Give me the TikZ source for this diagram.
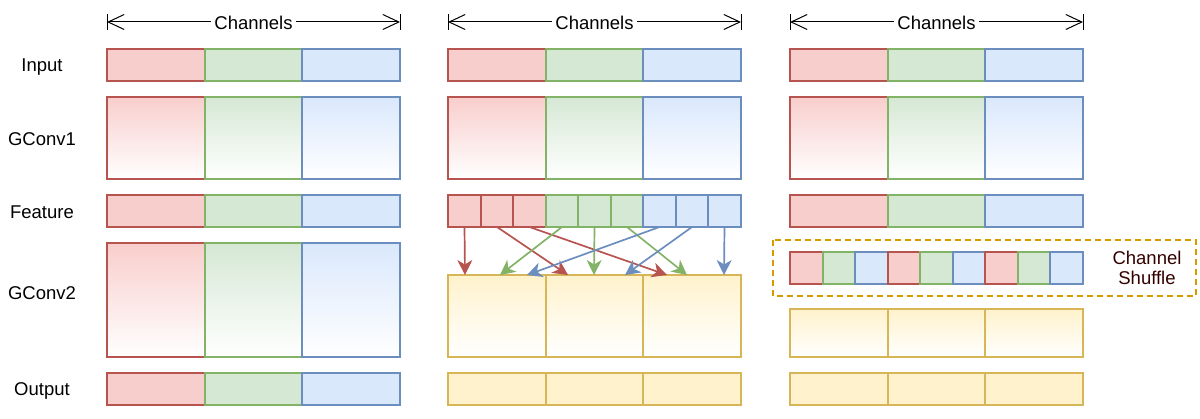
\documentclass[tikz,border=0pt]{standalone}
\usepackage{fontspec}
\setmainfont{Liberation Sans}
\usetikzlibrary{arrows.meta}
\definecolor{redS}{HTML}{B85450}\definecolor{redF}{HTML}{F8CECC}
\definecolor{grnS}{HTML}{82B366}\definecolor{grnF}{HTML}{D5E8D4}
\definecolor{bluS}{HTML}{6C8EBF}\definecolor{bluF}{HTML}{DAE8FC}
\definecolor{yelS}{HTML}{D6B656}\definecolor{yelF}{HTML}{FFF2CC}
\definecolor{orgS}{HTML}{D79B00}\definecolor{shufT}{HTML}{330000}
\tikzset{
  blk/.style={rectangle,line width=1.6pt,inner sep=0pt,outer sep=0pt,anchor=north west},
  rf/.style={blk,draw=redS,fill=redF}, gf/.style={blk,draw=grnS,fill=grnF},
  bf/.style={blk,draw=bluS,fill=bluF}, yf/.style={blk,draw=yelS,fill=yelF},
  rg/.style={blk,draw=redS,top color=redF,bottom color=white},
  gg/.style={blk,draw=grnS,top color=grnF,bottom color=white},
  bg/.style={blk,draw=bluS,top color=bluF,bottom color=white},
  yg/.style={blk,draw=yelS,top color=yelF,bottom color=white},
  lbl/.style={font=\fontsize{18.5}{22}\selectfont,anchor=base},
  chan/.style={font=\fontsize{18.5}{22}\selectfont,fill=white,inner xsep=3pt,inner ysep=0pt,yshift=-1.3pt},
  dimarr/.style={line width=1pt,{Straight Barb[length=16pt,width=15pt]}-{Straight Barb[length=16pt,width=15pt]}},
  arr/.style={line width=1.7pt,-{Stealth[length=15pt,width=15pt,inset=4.5pt]}}
}
% \blk{style}{x}{y}{w}{h}{name}
\newcommand{\blk}[6]{\node[#1,minimum width=#4pt,minimum height=#5pt] (#6) at ({#2},{#3}) {};}
\begin{document}
\begin{tikzpicture}[x=1pt,y=-1pt]
\useasboundingbox (0,0) rectangle (1200,419);
% row labels
\node[lbl] (lIn) at (42,71.5) {Input};
\node[lbl] (lG1) at (42,145.5) {GConv1};
\node[lbl] (lFe) at (42,218.5) {Feature};
\node[lbl] (lG2) at (42,299.5) {GConv2};
\node[lbl] (lOu) at (42,395.5) {Output};
% channel dimension arrows
\foreach \c/\x in {1/107,2/448,3/790}{
  \coordinate (d\c L) at (\x,22);
  \coordinate (d\c R) at ({\x+293},22);
  \draw[dimarr] (d\c L) -- node[chan] (ch\c) {Channels} (d\c R);
  \draw[line width=1pt] ([yshift=-8pt]d\c L) -- ([yshift=8pt]d\c L);
  \draw[line width=1pt] ([yshift=-8pt]d\c R) -- ([yshift=8pt]d\c R);
}
% input and gconv1 rows
\foreach \c/\x in {1/107,2/448,3/790}{
  \blk{rf}{\x}{49}{98}{32}{in\c a}
  \blk{gf}{\x+98}{49}{97}{32}{in\c b}
  \blk{bf}{\x+195}{49}{98}{32}{in\c c}
  \blk{rg}{\x}{97}{98}{82}{ga\c a}
  \blk{gg}{\x+98}{97}{97}{82}{ga\c b}
  \blk{bg}{\x+195}{97}{98}{82}{ga\c c}
}
% feature row
\foreach \c/\x in {1/107,3/790}{
  \blk{rf}{\x}{195}{98}{32}{fe\c a}
  \blk{gf}{\x+98}{195}{97}{32}{fe\c b}
  \blk{bf}{\x+195}{195}{98}{32}{fe\c c}
}
\foreach \i/\s/\xa/\w in {1/rf/448/33,2/rf/481/32,3/rf/513/33,4/gf/546/32,5/gf/578/33,6/gf/611/32,7/bf/643/33,8/bf/676/32,9/bf/708/33}{
  \blk{\s}{\xa}{195}{\w}{32}{f\i}
}
% gconv2 row
\blk{rg}{107}{243}{98}{114}{gb1a}
\blk{gg}{205}{243}{97}{114}{gb1b}
\blk{bg}{302}{243}{98}{114}{gb1c}
\blk{yg}{448}{275}{98}{82}{gb2a}
\blk{yg}{546}{275}{97}{82}{gb2b}
\blk{yg}{643}{275}{98}{82}{gb2c}
\draw[orgS,line width=1.5pt,dash pattern=on 6pt off 4pt] (773,240) rectangle (1196,296);
\node[lbl,text=shufT] (shuf1) at (1147,265) {Channel};
\node[lbl,text=shufT] (shuf2) at (1147,285) {Shuffle};
\foreach \i/\s/\xa/\w in {1/rf/790/33,2/gf/823/32,3/bf/855/33,4/rf/888/32,5/gf/920/33,6/bf/953/32,7/rf/985/33,8/gf/1018/32,9/bf/1050/33}{
  \blk{\s}{\xa}{252}{\w}{32}{s\i}
}
\blk{yg}{790}{309}{98}{48}{gb3a}
\blk{yg}{888}{309}{97}{48}{gb3b}
\blk{yg}{985}{309}{98}{48}{gb3c}
% output row
\blk{rf}{107}{373}{98}{32}{ou1a}
\blk{gf}{205}{373}{97}{32}{ou1b}
\blk{bf}{302}{373}{98}{32}{ou1c}
\foreach \c/\x in {2/448,3/790}{
  \blk{yf}{\x}{373}{98}{32}{ou\c a}
  \blk{yf}{\x+98}{373}{97}{32}{ou\c b}
  \blk{yf}{\x+195}{373}{98}{32}{ou\c c}
}
% shuffle arrows
\foreach \i/\t/\col in {1/465/redS,2/568/redS,3/667/redS,4/500/grnS,5/594/grnS,6/687/grnS,7/527/bluS,8/625/bluS,9/724/bluS}{
  \coordinate (t\i) at (\t,275);
  \draw[arr,draw=\col,fill=\col] (f\i.south) -- (t\i);
}
\end{tikzpicture}
\end{document}
